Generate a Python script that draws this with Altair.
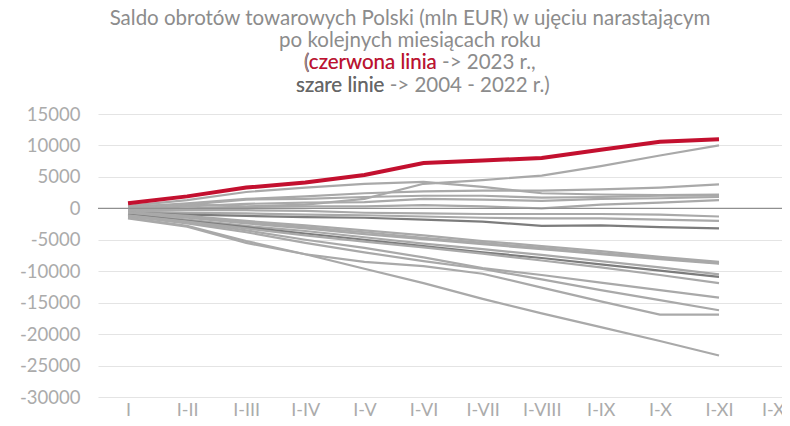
import altair as alt
import pandas as pd

months = ["I", "I-II", "I-III", "I-IV", "I-V", "I-VI", "I-VII", "I-VIII", "I-IX", "I-X", "I-XI", "I-XII"]

# 2023 (red line), cumulative balance, mln EUR
red_2023 = [800, 1900, 3300, 4100, 5300, 7200, 7600, 8000, 9300, 10600, 11000]

# 2004 - 2022 (grey lines)
gray_01 = [300, 600, 300, 600, 1500, 3900, 4500, 5200, 6700, 8400, 10000]
gray_02 = [200, 800, 1500, 1900, 2400, 2700, 2800, 2800, 3000, 3300, 3800]
gray_03 = [400, 1300, 2600, 3300, 3900, 4200, 3400, 2400, 2200, 2100, 2200]
gray_04 = [0, 600, 1400, 1500, 1800, 2000, 2000, 1700, 1800, 2000, 2000]
gray_05 = [-200, 300, 700, 900, 1000, 1500, 1400, 1200, 1500, 1600, 1800]
gray_06 = [-300, 0, 200, 300, 300, 500, 300, 0, 600, 900, 1300]
gray_07 = [-400, -300, -300, -400, -700, -800, -900, -900, -900, -1000, -1300]
gray_08 = [-500, -700, -800, -1000, -1100, -1300, -1500, -1600, -1600, -1800, -2000]
gray_09 = [-700, -1000, -1200, -1400, -1500, -1800, -2100, -2800, -2700, -3000, -3200]
gray_10 = [-600, -1200, -2000, -2700, -3500, -4300, -5200, -6000, -6800, -7700, -8500]
gray_11 = [-800, -1500, -2400, -3200, -4100, -4900, -5700, -6500, -7300, -8100, -8800]
gray_12 = [-900, -1800, -2800, -3600, -4600, -5600, -6500, -7400, -8400, -9400, -10500]
gray_13 = [-1000, -2000, -3000, -4000, -5000, -6000, -7000, -7900, -8900, -9900, -10900]
gray_14 = [-1200, -2200, -3500, -5000, -6300, -7800, -9500, -10600, -11800, -13000, -14200]
gray_15 = [-1100, -2100, -3200, -4300, -5300, -6200, -7200, -8300, -9400, -10600, -11900]
gray_16 = [-1300, -2400, -3800, -5500, -7000, -8400, -9650, -11300, -13000, -14600, -16200]
gray_17 = [-1500, -2800, -5200, -7300, -8500, -9200, -10400, -12600, -14800, -16900, -16900]
gray_18 = [-1600, -2900, -5500, -7300, -9600, -11900, -14400, -16700, -18900, -21100, -23400]
gray_19 = [-700, -1300, -2200, -3000, -3800, -4700, -5500, -6300, -7100, -7900, -8700]

gray_series = [gray_01, gray_02, gray_03, gray_04, gray_05, gray_06, gray_07, gray_08, gray_09,
               gray_10, gray_11, gray_12, gray_13, gray_14, gray_15, gray_16, gray_17, gray_18, gray_19]
dark_ids = [9, 13]

y_ticks = [15000, 10000, 5000, 0, -5000, -10000, -15000, -20000, -25000, -30000]

rows = []
for i, s in enumerate(gray_series, start=1):
    shade = "dark" if i in dark_ids else "light"
    for k, v in enumerate(s):
        rows.append({"series": f"g{i:02d}", "idx": k, "value": v, "shade": shade})
df_gray = pd.DataFrame(rows)
df_red = pd.DataFrame({"idx": list(range(len(red_2023))), "value": red_2023})

W, H = 684, 283
FONT = "Lato"
label_expr = "[" + ",".join(f"'{m}'" for m in months) + "][datum.value]"

x_enc = alt.X("idx:Q",
              scale=alt.Scale(domain=[-0.508, 11.066], nice=False, zero=False),
              axis=alt.Axis(values=list(range(len(months))), labelExpr=label_expr, grid=False,
                            ticks=False, domain=False, title=None, labelPadding=4,
                            labelFontSize=18, labelColor="#ababab", labelFont=FONT,
                            labelFlush=False, labelOverlap=False))
y_enc = alt.Y("value:Q",
              scale=alt.Scale(domain=[-30000, 15000], nice=False, zero=False),
              axis=alt.Axis(values=y_ticks, labelExpr="'' + datum.value", grid=True,
                            gridColor="#e4e4e4", gridWidth=1.2, ticks=False, domain=False,
                            title=None, labelPadding=18, labelFontSize=18.5,
                            labelColor="#ababab", labelFont=FONT, labelOverlap=False,
                            labelFlush=False))

gray = alt.Chart(df_gray).mark_line(strokeWidth=2.2).encode(
    x=x_enc, y=y_enc, detail="series:N",
    color=alt.Color("shade:N", scale=alt.Scale(domain=["light", "dark"],
                                               range=["#a9a9a9", "#7c7c7c"]), legend=None))

zero = alt.Chart(pd.DataFrame({"value": [0]})).mark_rule(color="#8f8f8f", strokeWidth=1.3).encode(
    y=y_enc, x=alt.value(0), x2=alt.value(W))

red = alt.Chart(df_red).mark_line(strokeWidth=4, color="#c3102f").encode(x=x_enc, y=y_enc)

TITLE_GRAY = "#8c8c8c"
t1 = "Saldo obrotów towarowych Polski (mln EUR) w ujęciu narastającym"
t2 = "po kolejnych miesiącach roku"
t3 = "(czerwona linia -> 2023 r.,"
t3_red = "(czerwona linia"
t4 = "szare linie -> 2004 - 2022 r.)"
t4_dark = "szare linie"

def txt(s, x, y, color, align):
    return alt.Chart(pd.DataFrame({"t": [s]})).mark_text(
        font=FONT, fontSize=20.5, color=color, align=align, baseline="middle").encode(
        x=alt.value(x), y=alt.value(y), text="t:N")

cx = 312
x3, x4 = 206, 198
titles = [
    txt(t1, cx, -95, TITLE_GRAY, "center"),
    txt(t2, cx, -73, TITLE_GRAY, "center"),
    txt(t3, x3, -51, TITLE_GRAY, "left"),
    txt(t3_red, x3, -51, "#c3102f", "left"),
    txt("(", x3, -51, TITLE_GRAY, "left"),
    txt(t4, x4, -28, TITLE_GRAY, "left"),
    txt(t4_dark, x4, -28, "#666666", "left"),
]

chart = alt.layer(gray, zero, red, *titles).properties(
    width=W, height=H,
    autosize=alt.AutoSizeParams(type="none"),
    padding={"left": 90, "top": 106, "right": 0, "bottom": 21},
).configure_view(stroke=None)

chart.save("out.html", embed_options={"renderer": "svg", "actions": False})
